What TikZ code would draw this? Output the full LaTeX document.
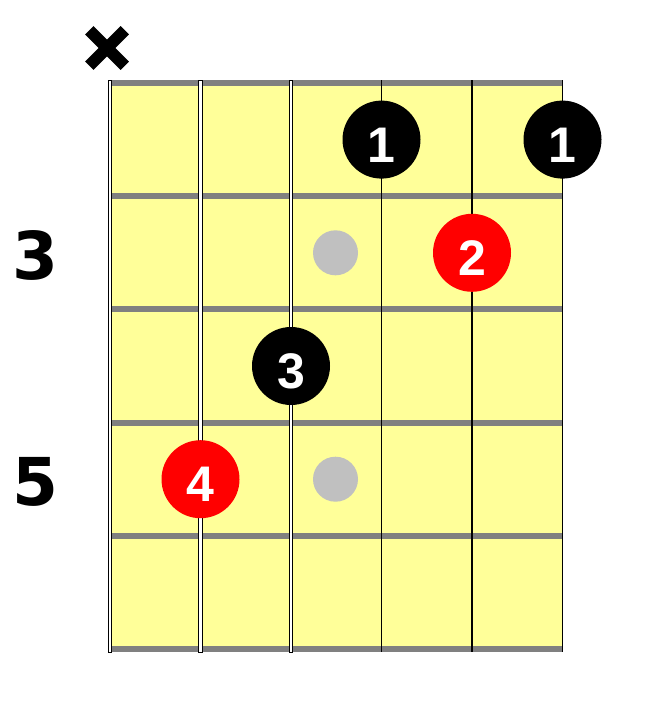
\documentclass[tikz,border=0pt]{standalone}
\usepackage{fontspec}
\setmainfont{Liberation Sans}
\newfontfamily\fretfont{DejaVu Sans}
\usepackage{xcolor}
\usetikzlibrary{positioning}
\definecolor{boardyellow}{HTML}{FFFF99}
\definecolor{fretgray}{HTML}{808080}
\definecolor{inlaygray}{HTML}{C0C0C0}
\tikzstyle{board} = [fill=boardyellow, draw=none]
\tikzstyle{fretbar} = [fill=fretgray, draw=none]
\tikzstyle{woundstring} = [fill=white, draw=black, line width=0.9pt]
\tikzstyle{plainstring} = [draw=black, line width=1.2pt]
\tikzstyle{finger} = [circle, minimum size=78pt, inner sep=0pt, fill=black]
\tikzstyle{fingernum} = [text=white, font=\fontsize{50}{50}\selectfont\bfseries, inner sep=0pt, yshift=-5.5pt]
\tikzstyle{inlay} = [circle, minimum size=45pt, inner sep=0pt, fill=inlaygray]
\tikzstyle{fretnum} = [font=\fretfont\fontsize{66}{66}\selectfont\bfseries, anchor=base, inner sep=0pt]
\begin{document}
\begin{tikzpicture}[x=1pt, y=-1pt]
    \useasboundingbox (0,0) rectangle (660,704);

    % Board
    \fill[board] (112,80) rectangle (562.5,652);

    % Frets
    \fill[fretbar] (112,80) rectangle (562.5,86);
    \fill[fretbar] (112,193.2) rectangle (562.5,199.2);
    \fill[fretbar] (112,306.4) rectangle (562.5,312.4);
    \fill[fretbar] (112,419.6) rectangle (562.5,425.6);
    \fill[fretbar] (112,532.8) rectangle (562.5,538.8);
    \fill[fretbar] (112,646) rectangle (562.5,652);

    % Strings - wound
    \filldraw[woundstring] (108.7,80) rectangle (111.9,652);
    \filldraw[woundstring] (198.9,80) rectangle (202.1,652);
    \filldraw[woundstring] (289.4,80) rectangle (292.6,652);

    % Strings - plain
    \draw[plainstring] (381.5,80) -- (381.5,652);
    \draw[plainstring] (472,80) -- (472,652);
    \draw[plainstring] (562.5,80) -- (562.5,652);

    % Muted string
    \draw[line width=12pt, black] (89.25,30.25) -- (124.75,65.75);
    \draw[line width=12pt, black] (89.25,65.75) -- (124.75,30.25);

    % Fret numbers
    \node[fretnum] (fr3) at (35,279.5) {3};
    \node[fretnum] (fr5) at (35,505.9) {5};

    % Inlays
    \node[inlay] (in3) at (335.5,252.8) {};
    \node[inlay] (in5) at (335.5,479.2) {};

    % Fingers
    \node[finger] (f1a) at (381.5,139.6) {};
    \node[fingernum] (n1a) at (f1a) {1};
    \node[finger] (f1b) at (562.5,139.6) {};
    \node[fingernum] (n1b) at (f1b) {1};
    \node[finger, fill=red] (f2) at (472,252.8) {};
    \node[fingernum] (n2) at (f2) {2};
    \node[finger] (f3) at (291,366) {};
    \node[fingernum] (n3) at (f3) {3};
    \node[finger, fill=red] (f4) at (200.5,479.2) {};
    \node[fingernum] (n4) at (f4) {4};
\end{tikzpicture}
\end{document}
